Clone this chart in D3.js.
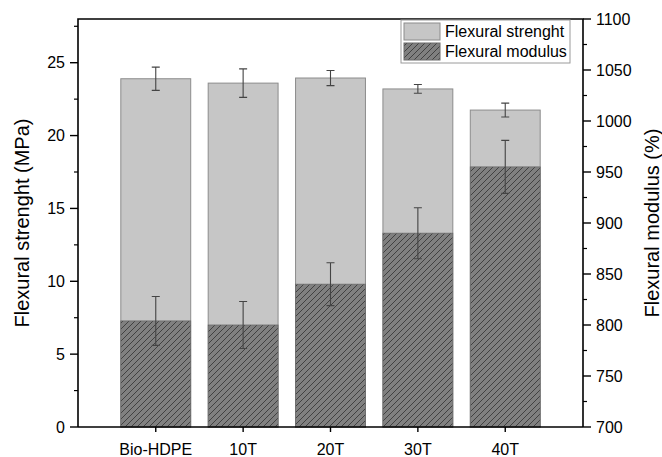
<!DOCTYPE html>
<html>
<head>
<meta charset="utf-8">
<script src="https://cdn.jsdelivr.net/npm/d3@7"></script>
<style>
  html, body { margin: 0; padding: 0; background: #fff; }
  svg text { font-family: "Liberation Sans", Arial, sans-serif; fill: #000; }
</style>
</head>
<body>
<svg id="chart" width="662" height="457"></svg>
<script>
// Samples and measured values
const categories = ["Bio-HDPE", "10T", "20T", "30T", "40T"];
const strength = [23.9, 23.6, 23.95, 23.2, 21.75];      // MPa
const strengthErr = [0.8, 0.98, 0.52, 0.3, 0.48];
const modulus = [804, 800, 840, 890, 955];               // %
const modulusErr = [24, 23, 21, 25, 26];
const leftTicks = [0, 5, 10, 15, 20, 25];
const rightTicks = [700, 750, 800, 850, 900, 950, 1000, 1050, 1100];

const svg = d3.select("#chart");
const L = 78, R = 583, T = 19, B = 427;

const x = d3.scaleBand().domain(categories).range([L, R])
  .paddingInner(0.2).paddingOuter(0.49);
const yL = d3.scaleLinear().domain([0, 28]).range([B, T]);
const yR = d3.scaleLinear().domain([700, 1100]).range([B, T]);

// diagonal hatch for the modulus bars
const defs = svg.append("defs");
const pat = defs.append("pattern").attr("id", "hatch")
  .attr("patternUnits", "userSpaceOnUse").attr("width", 6).attr("height", 6);
pat.append("rect").attr("width", 6).attr("height", 6).attr("fill", "#808080");
pat.append("path").attr("d", "M0,6 L6,0 M-1.5,1.5 L1.5,-1.5 M4.5,7.5 L7.5,4.5")
  .attr("stroke", "#3a3a3a").attr("stroke-width", 0.9);

const data = categories.map((c, i) => ({
  c, s: strength[i], se: strengthErr[i], m: modulus[i], me: modulusErr[i]
}));

// strength bars (left axis)
svg.append("g").selectAll("rect").data(data).join("rect")
  .attr("x", d => x(d.c)).attr("width", x.bandwidth())
  .attr("y", d => yL(d.s)).attr("height", d => yL(0) - yL(d.s))
  .attr("fill", "#c6c6c6").attr("stroke", "#8c8c8c").attr("stroke-width", 1);

// modulus bars (right axis)
svg.append("g").selectAll("rect").data(data).join("rect")
  .attr("x", d => x(d.c)).attr("width", x.bandwidth())
  .attr("y", d => yR(d.m)).attr("height", d => yR(700) - yR(d.m))
  .attr("fill", "url(#hatch)").attr("stroke", "#6a6a6a").attr("stroke-width", 0.8);

// error bars
function errorBars(vals, errs, scale) {
  const g = svg.append("g").attr("stroke", "#444").attr("stroke-width", 1.1).attr("fill", "none");
  data.forEach((d, i) => {
    const cx = x(d.c) + x.bandwidth() / 2;
    const y1 = scale(vals[i] + errs[i]), y2 = scale(vals[i] - errs[i]);
    g.append("path").attr("d",
      `M${cx},${y1}V${y2}M${cx - 4},${y1}H${cx + 4}M${cx - 4},${y2}H${cx + 4}`);
  });
}
errorBars(strength, strengthErr, yL);
errorBars(modulus, modulusErr, yR);

// frame and axes
const axisColor = "#000";
const ax = svg.append("g").attr("stroke", axisColor).attr("fill", "none");
ax.append("path").attr("d", `M${L},${B}V${T}H${R}V${B}`).attr("stroke-width", 1.6);
ax.append("path").attr("d", `M${L},${B}H${R}`).attr("stroke-width", 1.6);

// left axis ticks
const leftMinor = leftTicks.map(v => v + 2.5);
leftTicks.forEach(v => ax.append("line").attr("x1", L - 8).attr("x2", L)
  .attr("y1", yL(v)).attr("y2", yL(v)).attr("stroke-width", 1.4));
leftMinor.forEach(v => ax.append("line").attr("x1", L - 4).attr("x2", L)
  .attr("y1", yL(v)).attr("y2", yL(v)).attr("stroke-width", 1.2));
svg.append("g").selectAll("text").data(leftTicks).join("text")
  .attr("x", L - 13).attr("y", v => yL(v)).attr("dy", "0.36em")
  .attr("text-anchor", "end").attr("font-size", 16).text(v => v);

// right axis ticks
const rightMinor = rightTicks.slice(0, -1).map(v => v + 25);
rightTicks.forEach(v => ax.append("line").attr("x1", R).attr("x2", R + 8)
  .attr("y1", yR(v)).attr("y2", yR(v)).attr("stroke-width", 1.4));
rightMinor.forEach(v => ax.append("line").attr("x1", R).attr("x2", R + 4)
  .attr("y1", yR(v)).attr("y2", yR(v)).attr("stroke-width", 1.2));
svg.append("g").selectAll("text").data(rightTicks).join("text")
  .attr("x", R + 13).attr("y", v => yR(v)).attr("dy", "0.36em")
  .attr("text-anchor", "start").attr("font-size", 16).text(v => v);

// category axis
categories.forEach(c => {
  const cx = x(c) + x.bandwidth() / 2;
  ax.append("line").attr("x1", cx).attr("x2", cx).attr("y1", B).attr("y2", B + 5)
    .attr("stroke-width", 1.4);
});
svg.append("g").selectAll("text").data(categories).join("text")
  .attr("x", c => x(c) + x.bandwidth() / 2).attr("y", 455)
  .attr("text-anchor", "middle").attr("font-size", 16).text(c => c);

// axis titles
svg.append("text").attr("transform", `translate(29,${(T + B) / 2}) rotate(-90)`)
  .attr("text-anchor", "middle").attr("font-size", 20).text("Flexural strenght (MPa)");
svg.append("text").attr("transform", `translate(659,${(T + B) / 2}) rotate(-90)`)
  .attr("text-anchor", "middle").attr("font-size", 20).text("Flexural modulus (%)");

// legend
const lg = svg.append("g");
lg.append("rect").attr("x", 401).attr("y", 20).attr("width", 169).attr("height", 43)
  .attr("fill", "#fff").attr("stroke", "#9a9a9a").attr("stroke-width", 1);
lg.append("rect").attr("x", 404).attr("y", 23).attr("width", 36).attr("height", 17)
  .attr("fill", "#c6c6c6").attr("stroke", "#8c8c8c");
lg.append("rect").attr("x", 404).attr("y", 43).attr("width", 36).attr("height", 17)
  .attr("fill", "url(#hatch)").attr("stroke", "#6a6a6a");
lg.append("text").attr("x", 445).attr("y", 37).attr("font-size", 16).text("Flexural strenght");
lg.append("text").attr("x", 445).attr("y", 57).attr("font-size", 16).text("Flexural modulus");
</script>
</body>
</html>
